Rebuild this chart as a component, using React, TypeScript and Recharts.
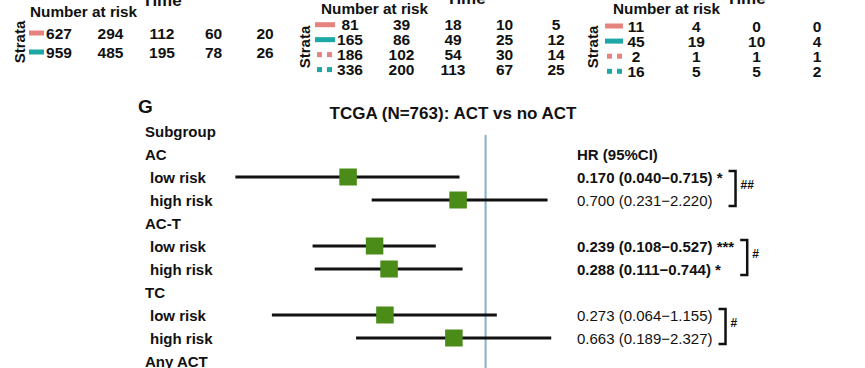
import {
  ComposedChart,
  ScatterChart,
  Scatter,
  XAxis,
  YAxis,
  ErrorBar,
  ReferenceLine,
} from "recharts";

const FONT = "'Liberation Sans', Arial, Helvetica, sans-serif";
const INK = "#111";
const RED = "#e6837f";
const TEAL = "#1da8a5";
const GREEN = "#4b8b18";
const REF_BLUE = "#80b4c6";

// number-at-risk tables (bottom of the three KM panels above G)
const timesE = [0, 5, 10, 15, 20];
const strataE = ["low risk", "high risk"];
const atRiskE = [
  [627, 294, 112, 60, 20],
  [959, 485, 195, 78, 26],
];

const timesF = [0, 5, 10, 15, 20];
const strataF = ["low risk, ACT", "high risk, ACT", "low risk, no ACT", "high risk, no ACT"];
const atRiskF = [
  [81, 39, 18, 10, 5],
  [165, 86, 49, 25, 12],
  [186, 102, 54, 30, 14],
  [336, 200, 113, 67, 25],
];

const timesH = [0, 5, 10, 15];
const strataH = ["low risk, ACT", "high risk, ACT", "low risk, no ACT", "high risk, no ACT"];
const atRiskH = [
  [11, 4, 0, 0],
  [45, 19, 10, 4],
  [2, 1, 1, 1],
  [16, 5, 5, 2],
];

// forest plot G
const subgroups = ["AC", "AC-T", "TC"];
const riskGroups = ["low risk", "high risk"];
const hrValues = [0.17, 0.7, 0.239, 0.288, 0.273, 0.663];
const ciLow = [0.04, 0.231, 0.108, 0.111, 0.064, 0.189];
const ciHigh = [0.715, 2.22, 0.527, 0.744, 1.155, 2.327];
const sigMarks = ["*", "", "***", "*", "", ""];
const interactionMarks = ["##", "#", "#"];
const trailingHeader = "Any ACT";

const ROW_STEP = 23;
const LABEL_X = 145;

const rowLabels: { text: string; header: boolean }[] = [{ text: "Subgroup", header: true }];
subgroups.forEach((g) => {
  rowLabels.push({ text: g, header: true });
  riskGroups.forEach((r) => rowLabels.push({ text: r, header: false }));
});
rowLabels.push({ text: trailingHeader, header: true });

const forestData = hrValues.map((v, i) => {
  const g = Math.floor(i / 2);
  const k = i % 2;
  return {
    row: 2 + g * 3 + k,
    hr: v,
    err: [v - ciLow[i], ciHigh[i] - v],
    text: `${v.toFixed(3)} (${ciLow[i].toFixed(3)}\u2212${ciHigh[i].toFixed(3)})${sigMarks[i] ? " " + sigMarks[i] : ""}`,
    bold: sigMarks[i] !== "",
    g,
    k,
  };
});

let ctx: CanvasRenderingContext2D | null = null;
function textWidth(s: string, bold: boolean) {
  if (!ctx) ctx = document.createElement("canvas").getContext("2d");
  if (!ctx) return s.length * 8;
  ctx.font = `${bold ? "bold " : ""}15px ${FONT}`;
  return ctx.measureText(s).width;
}

function LeftTick({ y, payload }: any) {
  const lab = rowLabels[payload.value];
  if (!lab) return null;
  return (
    <text x={lab.header ? LABEL_X : LABEL_X + 5} y={y} dominantBaseline="central" fontFamily={FONT} fontSize={15} fontWeight="bold" fill={INK}>
      {lab.text}
    </text>
  );
}

function RightTick({ x, y, payload }: any) {
  const r = payload.value;
  const tx = x + 6;
  if (r === 1) {
    return (
      <text x={tx} y={y} dominantBaseline="central" fontFamily={FONT} fontSize={15} fontWeight="bold" fill={INK}>
        HR (95%CI)
      </text>
    );
  }
  const d = forestData.find((f) => f.row === r);
  if (!d) return null;
  let bracket = null;
  if (d.k === 0) {
    const pair = forestData.filter((f) => f.g === d.g);
    const w = Math.max(...pair.map((f) => textWidth(f.text, f.bold)));
    const bx = tx + w + 13;
    const y0 = y - 6;
    const y1 = y + ROW_STEP + 6;
    bracket = (
      <g>
        <path d={`M${bx - 7},${y0} H${bx} V${y1} H${bx - 7}`} fill="none" stroke={INK} strokeWidth={2.5} />
        <text x={bx + 5} y={y + ROW_STEP / 2 - 4} dominantBaseline="central" fontFamily={FONT} fontSize={12} fontWeight="bold" fill={INK}>
          {interactionMarks[d.g]}
        </text>
      </g>
    );
  }
  return (
    <g>
      <text x={tx} y={y} dominantBaseline="central" fontFamily={FONT} fontSize={15} fontWeight={d.bold ? "bold" : "normal"} fill={INK}>
        {d.text}
      </text>
      {bracket}
    </g>
  );
}

const Square = (p: any) => <rect x={p.cx - 8.5} y={p.cy - 8.5} width={17.5} height={17} fill={GREEN} />;

type PanelLayout = {
  left: number;
  width: number;
  plotLeft: number;
  plotRight: number;
  rowTop: number;
  rowBottom: number;
  swatchW: number;
  swatchGap: number;
};

function RiskTable({ times, strata, counts, lay }: { times: number[]; strata: string[]; counts: number[][]; lay: PanelLayout }) {
  const H = 90;
  const data = counts.flatMap((row, s) => row.map((n, j) => ({ t: times[j], s, n })));
  const Swatch = ({ x, y, payload }: any) => {
    const s = payload.value as number;
    const color = s % 2 ? TEAL : RED;
    const x0 = x - lay.swatchGap - lay.swatchW;
    if (s < 2) return <rect x={x0} y={y - 2.5} width={lay.swatchW} height={5} fill={color} />;
    return (
      <g>
        <rect x={x0 + 2} y={y - 2.5} width={5} height={5} fill={color} />
        <rect x={x0 + 12} y={y - 2.5} width={5} height={5} fill={color} />
      </g>
    );
  };
  const Count = (p: any) => (
    <text x={p.cx} y={p.cy} textAnchor="middle" dominantBaseline="central" fontFamily={FONT} fontSize={15.5} fontWeight="bold" fill={INK}>
      {p.payload.n}
    </text>
  );
  return (
    <div style={{ position: "absolute", left: lay.left, top: 0 }}>
      <ScatterChart
        width={lay.width}
        height={H}
        margin={{ top: lay.rowTop, bottom: H - lay.rowBottom, left: 0, right: lay.width - lay.plotRight }}
      >
        <XAxis type="number" dataKey="t" domain={[times[0], times[times.length - 1]]} hide />
        <YAxis
          type="number"
          dataKey="s"
          domain={[0, strata.length - 1]}
          ticks={strata.map((_, i) => i)}
          reversed
          interval={0}
          width={lay.plotLeft}
          axisLine={false}
          tickLine={false}
          tickSize={0}
          tickMargin={0}
          tick={<Swatch />}
        />
        <Scatter data={data} shape={<Count />} isAnimationActive={false} />
      </ScatterChart>
    </div>
  );
}

const layE: PanelLayout = { left: 0, width: 290, plotLeft: 59, plotRight: 265, rowTop: 33, rowBottom: 52, swatchW: 15, swatchGap: 15 };
const layF: PanelLayout = { left: 290, width: 290, plotLeft: 60, plotRight: 266, rowTop: 24.7, rowBottom: 69.6, swatchW: 20, swatchGap: 15 };
const layH: PanelLayout = { left: 580, width: 285, plotLeft: 56, plotRight: 237, rowTop: 26, rowBottom: 71.3, swatchW: 18, swatchGap: 13 };

const boldText = { fontFamily: FONT, fontWeight: "bold" as const, fill: INK };

export default function App() {
  return (
    <div style={{ position: "relative", width: 865, height: 368, overflow: "hidden", background: "#fff" }}>
      <style>{"body{margin:0;overflow:hidden}"}</style>
      <div style={{ position: "absolute", left: 0, top: 0 }}>
        <ComposedChart width={865} height={384} data={forestData} margin={{ top: 131, bottom: 0, left: 0, right: 0 }}>
          <XAxis type="number" dataKey="hr" scale="log" domain={[0.03, 3]} allowDataOverflow hide />
          <YAxis
            yAxisId="left"
            type="number"
            dataKey="row"
            domain={[0, 11]}
            ticks={rowLabels.map((_, i) => i)}
            interval={0}
            reversed
            width={213}
            axisLine={false}
            tickLine={false}
            tickSize={0}
            tickMargin={0}
            tick={<LeftTick />}
          />
          <YAxis
            yAxisId="right"
            orientation="right"
            type="number"
            domain={[0, 11]}
            allowDataOverflow
            ticks={[1, ...forestData.map((d) => d.row)]}
            interval={0}
            reversed
            width={294}
            axisLine={false}
            tickLine={false}
            tickSize={0}
            tickMargin={0}
            tick={<RightTick />}
          />
          <ReferenceLine
            yAxisId="left"
            segment={[{ x: 1, y: 0.17 }, { x: 1, y: 11 }]}
            stroke={REF_BLUE}
            strokeWidth={2}
          />
          <Scatter yAxisId="left" data={forestData} dataKey="hr" fill={GREEN} shape={<Square />} isAnimationActive={false}>
            <ErrorBar dataKey="err" direction="x" width={0} stroke={INK} strokeWidth={3} isAnimationActive={false} />
          </Scatter>
        </ComposedChart>
      </div>
      <RiskTable times={timesE} strata={strataE} counts={atRiskE} lay={layE} />
      <RiskTable times={timesF} strata={strataF} counts={atRiskF} lay={layF} />
      <RiskTable times={timesH} strata={strataH} counts={atRiskH} lay={layH} />
      <svg width={865} height={368} style={{ position: "absolute", left: 0, top: 0, pointerEvents: "none" }}>
        <text x={30} y={16.5} fontSize={15.3} {...boldText}>Number at risk</text>
        <text x={321} y={14} fontSize={15.3} {...boldText}>Number at risk</text>
        <text x={613} y={14} fontSize={15.3} {...boldText}>Number at risk</text>
        <text x={162} y={6} fontSize={17} textAnchor="middle" {...boldText}>Time</text>
        <text x={466} y={3.5} fontSize={17} textAnchor="middle" {...boldText}>Time</text>
        <text x={746} y={3.5} fontSize={17} textAnchor="middle" {...boldText}>Time</text>
        <text transform="translate(25,42) rotate(-90)" fontSize={15} textAnchor="middle" {...boldText}>Strata</text>
        <text transform="translate(309.5,47) rotate(-90)" fontSize={15} textAnchor="middle" {...boldText}>Strata</text>
        <text transform="translate(597.5,47) rotate(-90)" fontSize={15} textAnchor="middle" {...boldText}>Strata</text>
        <text x={138} y={113} fontSize={19} {...boldText}>G</text>
        <text x={453} y={119} fontSize={17} textAnchor="middle" {...boldText}>TCGA (N=763): ACT vs no ACT</text>
      </svg>
    </div>
  );
}
